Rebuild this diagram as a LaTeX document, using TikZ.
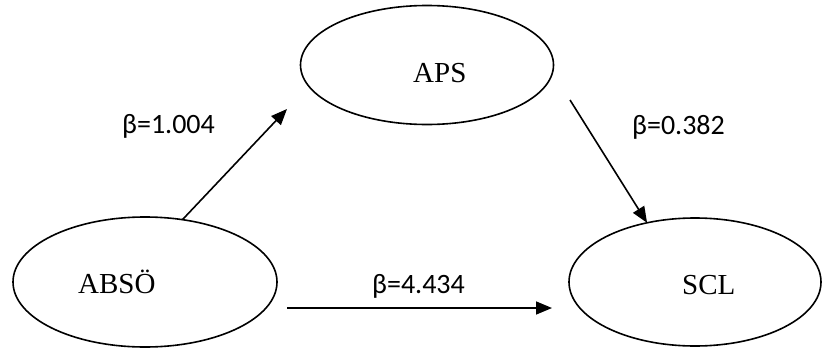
\documentclass[tikz,border=0pt]{standalone}
\usepackage{fontspec}
\setmainfont{Liberation Serif}
\newfontfamily\lblfont{Carlito}
\usetikzlibrary{arrows.meta,shapes.geometric}
\begin{document}
\begin{tikzpicture}[x=1pt,y=-1pt,
  ell/.style={draw,ellipse,inner sep=0pt,outer sep=0pt,line width=1.6pt},
  vartext/.style={anchor=base west,inner sep=0pt,font=\fontsize{29}{34}\selectfont},
  coef/.style={anchor=base west,inner sep=0pt,font=\lblfont\fontsize{28}{33}\selectfont},
  arr/.style={line width=1.6pt,-{Triangle[length=16pt,width=13pt]}}]
\useasboundingbox (0,0) rectangle (822,356);
\node[ell,minimum width=253pt,minimum height=119pt] (aps) at (427,65) {};
\node[ell,minimum width=264pt,minimum height=130pt] (abso) at (145,282) {};
\node[ell,minimum width=252pt,minimum height=128pt] (scl) at (695,282) {};
\node[vartext] (apst) at (413,82) {APS};
\node[vartext] (absot) at (78,293) {ABSÖ};
\node[vartext] (sclt) at (682,294) {SCL};
\coordinate (t1) at (287,109);
\coordinate (s2) at (570,100);
\coordinate (s3) at (287,308);
\coordinate (t3) at (552,308);
\draw[arr] (abso.59) -- (t1);
\draw[arr] (s2) -- (scl.129);
\draw[arr] (s3) -- (t3);
\node[coef] (b1) at (122,133) {β=1.004};
\node[coef] (b2) at (632,134) {β=0.382};
\node[coef] (b3) at (372,293) {β=4.434};
\end{tikzpicture}
\end{document}
